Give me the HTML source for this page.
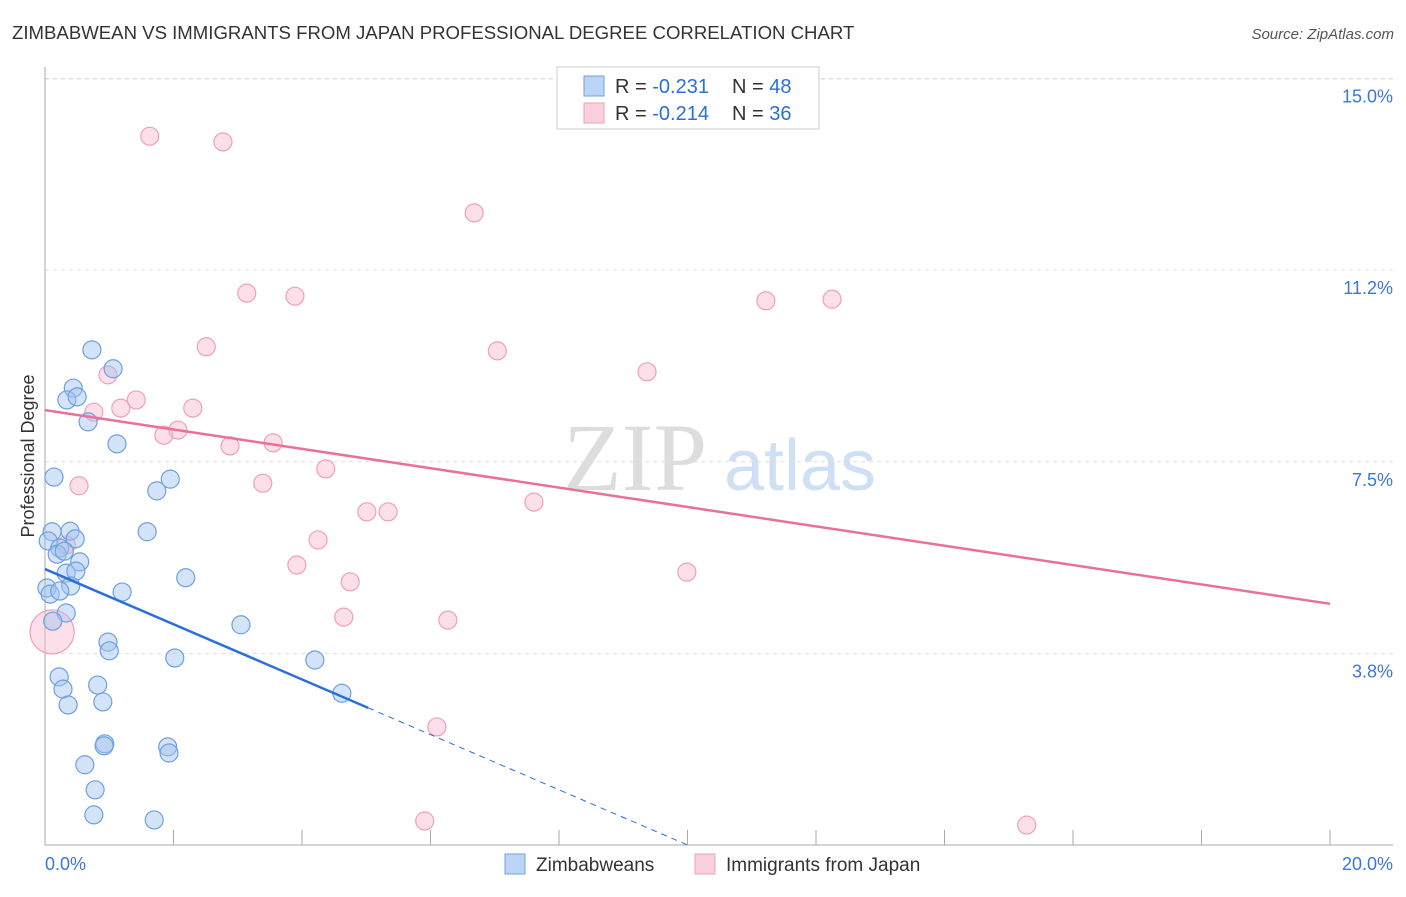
<!DOCTYPE html>
<html><head><meta charset="utf-8"><style>
body{margin:0;background:#fff;font-family:"Liberation Sans",sans-serif}
</style></head><body>
<svg width="1406" height="892" viewBox="0 0 1406 892" xmlns="http://www.w3.org/2000/svg">
<text x="12" y="39" font-size="18.6" fill="#333">ZIMBABWEAN VS IMMIGRANTS FROM JAPAN PROFESSIONAL DEGREE CORRELATION CHART</text>
<text x="1394" y="39" font-size="15" fill="#555" font-style="italic" text-anchor="end">Source: ZipAtlas.com</text>
<g>
<text x="635" y="490" font-size="96" fill="#ddd" font-family="Liberation Serif,serif" text-anchor="middle">ZIP</text>
<text x="800" y="490" font-size="72" fill="#cfe0f5" text-anchor="middle">atlas</text>
</g>
<g id="grid"></g>
<g id="axes"></g>
<g id="marks"></g>
<text x="34" y="456" font-size="18" fill="#333" text-anchor="middle" transform="rotate(-90 34 456)">Professional Degree</text>
<g>
<rect x="557" y="67" width="262" height="62" fill="#fff" stroke="#ccc"/>
<rect x="584" y="76" width="20" height="20" fill="#bcd4f5" stroke="#6f9fe0"/>
<rect x="584" y="103" width="20" height="20" fill="#fbd0de" stroke="#eea0ba"/>
<text x="615" y="93" font-size="20" fill="#333">R = <tspan fill="#2a6fdb">-0.231</tspan></text>
<text x="732" y="93" font-size="20" fill="#333">N = <tspan fill="#2a6fdb">48</tspan></text>
<text x="615" y="120" font-size="20" fill="#333">R = <tspan fill="#2a6fdb">-0.214</tspan></text>
<text x="732" y="120" font-size="20" fill="#333">N = <tspan fill="#2a6fdb">36</tspan></text>
</g>
<g>
<rect x="505" y="854" width="20" height="20" fill="#bcd4f5" stroke="#6f9fe0"/>
<text x="536" y="871" font-size="19" fill="#333">Zimbabweans</text>
<rect x="695" y="854" width="20" height="20" fill="#fbd0de" stroke="#eea0ba"/>
<text x="726" y="871" font-size="19" fill="#333">Immigrants from Japan</text>
</g>
</svg>
<script>
const yTicks=[3.75,7.5,11.25,15];
const yTickLabels=["3.8%","7.5%","11.2%","15.0%"];
const xTicks=[0,2,4,6,8,10,12,14,16,18,20];
const blueX=[0.73,1.06,0.44,0.34,0.50,0.67,1.12,0.14,1.95,1.74,0.11,0.39,1.59,0.05,0.47,0.23,0.19,0.30,0.54,0.33,0.48,0.03,0.40,0.08,0.23,1.20,2.19,0.33,0.12,0.98,1.00,3.05,2.02,4.20,0.22,0.28,0.82,0.36,0.90,0.93,0.92,1.91,1.93,0.62,0.78,0.76,1.70,4.62];
const blueY=[9.69,9.32,8.94,8.71,8.77,8.28,7.85,7.20,7.16,6.93,6.13,6.14,6.13,5.95,5.99,5.81,5.69,5.75,5.54,5.32,5.36,5.03,5.07,4.91,4.97,4.95,5.23,4.54,4.38,3.97,3.80,4.31,3.66,3.62,3.29,3.05,3.13,2.74,2.80,1.98,1.94,1.92,1.80,1.57,1.08,0.59,0.49,2.97];
const pinkX=[1.63,2.77,6.68,3.14,3.89,11.22,12.25,2.51,7.04,9.37,0.98,0.76,1.18,1.42,2.30,1.85,2.07,2.88,3.55,0.53,3.39,4.37,7.61,5.01,5.34,4.25,0.33,3.92,4.75,9.99,4.65,6.27,6.10,5.91,15.28,0.11];
const pinkY=[13.87,13.76,12.37,10.80,10.74,10.65,10.68,9.75,9.67,9.26,9.20,8.47,8.55,8.71,8.55,8.02,8.12,7.81,7.87,7.03,7.08,7.36,6.71,6.52,6.52,5.97,5.87,5.48,5.15,5.34,4.46,4.40,2.31,0.47,0.39,4.17];
const pinkR=[9,9,9,9,9,9,9,9,9,9,9,9,9,9,9,9,9,9,9,9,9,9,9,9,9,9,9,9,9,9,9,9,9,9,9,22];
const blueTrend=[5.40,-0.54];const blueSolidEnd=5.03;
const pinkTrend=[8.51,-0.1895];
const NS="http://www.w3.org/2000/svg";
const sx=v=>45+v*64.25, sy=v=>845-v*51.1;
function mk(tag,attrs,parent){const e=document.createElementNS(NS,tag);for(const k in attrs)e.setAttribute(k,attrs[k]);document.getElementById(parent).appendChild(e);return e;}
yTicks.forEach((t,i)=>{
 const l=mk('line',{x1:45,x2:1393,y1:sy(t),y2:sy(t),stroke:'#ddd','stroke-dasharray':'4,4'},'grid');
 
 
 const tx=mk('text',{x:1393,y:sy(t)+24,'font-size':18,fill:'#3a78d8','text-anchor':'end'},'axes');tx.textContent=yTickLabels[i];
 
 
});
const tl=mk('line',{x1:45,x2:1393,y1:79,y2:79,stroke:'#ddd','stroke-dasharray':'4,4'},'grid');


const ya=mk('line',{x1:45,x2:45,y1:67,y2:845,stroke:'#aaa'},'axes');


const xa=mk('line',{x1:45,x2:1393,y1:845,y2:845,stroke:'#aaa'},'axes');


xTicks.forEach(t=>{const l=mk('line',{x1:sx(t),x2:sx(t),y1:830,y2:845,stroke:'#aaa'},'axes');
 
 });
const x0=mk('text',{x:45,y:870,'font-size':18,fill:'#3a78d8'},'axes');x0.textContent='0.0%';


const x1=mk('text',{x:1393,y:870,'font-size':18,fill:'#3a78d8','text-anchor':'end'},'axes');x1.textContent='20.0%';


pinkX.forEach((x,i)=>{const c=mk('circle',{cx:sx(x),cy:sy(pinkY[i]),r:pinkR[i],fill:'rgba(248,185,205,0.45)',stroke:'#eea0ba','stroke-width':1.2},'marks');
 
 });
blueX.forEach((x,i)=>{const c=mk('circle',{cx:sx(x),cy:sy(blueY[i]),r:9,fill:'rgba(160,195,240,0.45)',stroke:'#6f9fe0','stroke-width':1.2},'marks');
 
 });
const bz=-blueTrend[0]/blueTrend[1];
const b1=mk('line',{x1:sx(0),y1:sy(blueTrend[0]),x2:sx(blueSolidEnd),y2:sy(blueTrend[0]+blueTrend[1]*blueSolidEnd),stroke:'#2a6fdb','stroke-width':2.5},'marks');


const b2=mk('line',{x1:sx(blueSolidEnd),y1:sy(blueTrend[0]+blueTrend[1]*blueSolidEnd),x2:sx(bz),y2:sy(0),stroke:'#2a6fdb','stroke-width':1,'stroke-dasharray':'6,5'},'marks');


const p1=mk('line',{x1:sx(0),y1:sy(pinkTrend[0]),x2:sx(20),y2:sy(pinkTrend[0]+pinkTrend[1]*20),stroke:'#e8709a','stroke-width':2.5},'marks');


</script>
</body></html>
